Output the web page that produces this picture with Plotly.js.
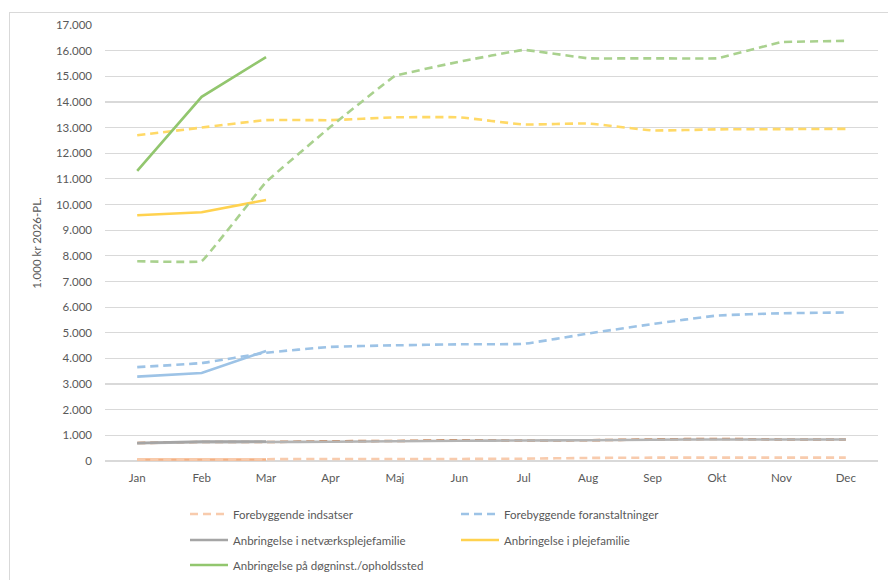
<!DOCTYPE html>
<html>
<head>
<meta charset="utf-8">
<script src="https://cdn.plot.ly/plotly-3.0.1.min.js"></script>
<style>
  html, body { margin: 0; padding: 0; background: #fff; }
  #wrap { position: relative; width: 888px; height: 580px; overflow: hidden; }
  #frame { position: absolute; left: 9px; top: 12px; width: 900px; height: 600px; border-left: 1px solid #d9d9d9; border-top: 1px solid #d9d9d9; pointer-events: none; }
  #chart { position: absolute; left: 0; top: 0; width: 888px; height: 580px; }
</style>
</head>
<body>
<div id="wrap">
  <div id="chart"></div>
  <div id="frame"></div>
</div>
<script>
// ---- data ----
const months = ['Jan','Feb','Mar','Apr','Maj','Jun','Jul','Aug','Sep','Okt','Nov','Dec'];
const monthsActual = ['Jan','Feb','Mar'];

const indsatserFakt  = [60, 60, 60];
const indsatserProg  = [60, 60, 70, 80, 80, 80, 90, 120, 130, 130, 130, 130];

const foranstFakt    = [3290, 3430, 4290];
const foranstProg    = [3660, 3820, 4220, 4450, 4510, 4550, 4570, 4970, 5340, 5670, 5760, 5790];

const netvFakt       = [700, 760, 760];
const netvProg       = [690, 730, 740, 750, 770, 790, 800, 810, 830, 840, 840, 840];
const netvProgAlt    = [700, 740, 740, 770, 780, 810, 800, 810, 840, 860, 840, 840];

const plejeFakt      = [9580, 9700, 10180];
const plejeProg      = [12700, 13000, 13290, 13290, 13400, 13400, 13120, 13160, 12890, 12930, 12940, 12950];

const doegnFakt      = [11310, 14200, 15750];
const doegnProg      = [7790, 7790, 10880, 13030, 15010, 15570, 16030, 15700, 15700, 15700, 16330, 16380];

const yTicks = [0,1000,2000,3000,4000,5000,6000,7000,8000,9000,10000,11000,12000,13000,14000,15000,16000,17000];

// ---- styles ----
const DASH = '8px,5px';
const W = 2.6;
const SM = 0.35;
const solid = (color) => ({color: color, width: W, shape: 'linear'});
const dashed = (color, sm) => ({color: color, width: W, dash: DASH, shape: 'spline', smoothing: sm === undefined ? SM : sm});

const traces = [
  {x: monthsActual, y: indsatserFakt, mode: 'lines', line: solid('#F4B183'), showlegend: false},
  {x: months, y: indsatserProg, mode: 'lines', name: 'Forebyggende indsatser', line: dashed('#F8CBAD'), legend: 'legend'},
  {x: monthsActual, y: foranstFakt, mode: 'lines', line: solid('#9DC3E6'), showlegend: false},
  {x: months, y: foranstProg, mode: 'lines', name: 'Forebyggende foranstaltninger', line: dashed('#9DC3E6'), legend: 'legend'},
  {x: months, y: netvProgAlt, mode: 'lines', line: dashed('#C55A11'), opacity: 0.75, showlegend: false},
  {x: months, y: netvProg, mode: 'lines', line: {color: '#B4B4B4', width: W, shape: 'spline', smoothing: SM}, showlegend: false},
  {x: monthsActual, y: netvFakt, mode: 'lines', name: 'Anbringelse i netværksplejefamilie', line: solid('#A5A5A5'), legend: 'legend2'},
  {x: monthsActual, y: plejeFakt, mode: 'lines', name: 'Anbringelse i plejefamilie', line: solid('#FFD24F'), legend: 'legend2'},
  {x: months, y: plejeProg, mode: 'lines', line: dashed('#FFD966'), showlegend: false},
  {x: monthsActual, y: doegnFakt, mode: 'lines', name: 'Anbringelse på døgninst./opholdssted', line: solid('#92C66E'), legend: 'legend3'},
  {x: months, y: doegnProg, mode: 'lines', line: dashed('#A9D18E', 0.15), showlegend: false}
];

const FONT = {family: 'Lato, "Open Sans", sans-serif', size: 11.5, color: '#595959'};
const legendBase = {
  orientation: 'h', xref: 'container', yref: 'container',
  xanchor: 'left', yanchor: 'middle', x: 185/888,
  entrywidth: 218, entrywidthmode: 'pixels', itemwidth: 38,
  font: FONT, bgcolor: 'rgba(0,0,0,0)', borderwidth: 0
};

const layout = {
  width: 888, height: 580,
  margin: {l: 105, r: 10, t: 25, b: 119},
  paper_bgcolor: '#ffffff', plot_bgcolor: '#ffffff',
  separators: ',.',
  font: FONT,
  showlegend: true,
  xaxis: {
    type: 'category', categoryorder: 'array', categoryarray: months,
    range: [-0.5, 11.5], showgrid: false, zeroline: false,
    showline: false, ticks: '', ticklabelstandoff: 8,
    tickfont: FONT, fixedrange: true
  },
  yaxis: {
    range: [0, 17000], tickvals: yTicks, tickformat: ',.0f',
    showgrid: true, gridcolor: '#D9D9D9', gridwidth: 1.2,
    zeroline: true, zerolinecolor: '#D9D9D9', zerolinewidth: 1.2,
    showline: false, ticks: '', ticklabelstandoff: 12,
    tickfont: FONT,
    title: {text: '1.000 kr 2026-PL.', font: FONT, standoff: 11},
    fixedrange: true
  },
  legend: Object.assign({}, legendBase, {y: 1 - 514/580}),
  legend2: Object.assign({}, legendBase, {y: 1 - 540/580}),
  legend3: Object.assign({}, legendBase, {y: 1 - 565/580})
};

Plotly.newPlot('chart', traces, layout, {displayModeBar: false, staticPlot: true});
</script>
</body>
</html>
